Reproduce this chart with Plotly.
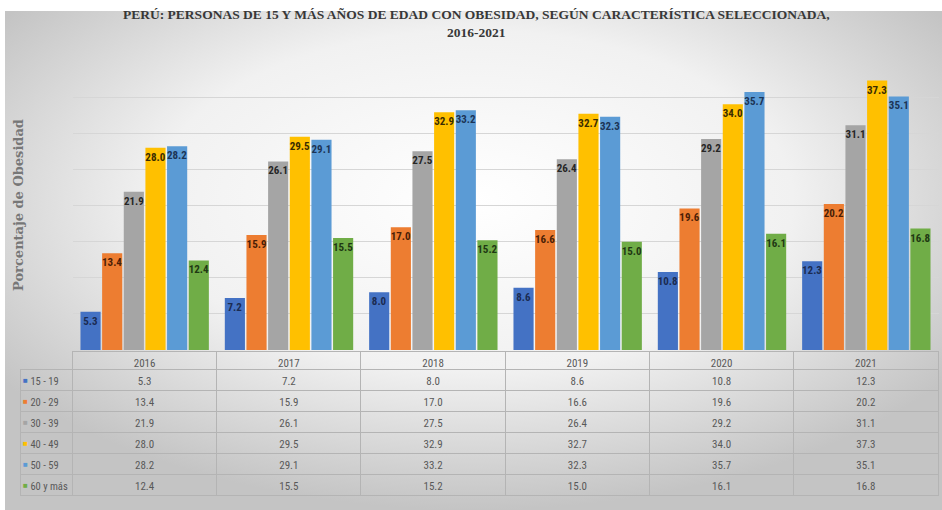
import base64
import plotly.graph_objects as go

years = ["2016", "2017", "2018", "2019", "2020", "2021"]
groups = ["15 - 19", "20 - 29", "30 - 39", "40 - 49", "50 - 59", "60 y más"]
v_15_19 = [5.3, 7.2, 8.0, 8.6, 10.8, 12.3]
v_20_29 = [13.4, 15.9, 17.0, 16.6, 19.6, 20.2]
v_30_39 = [21.9, 26.1, 27.5, 26.4, 29.2, 31.1]
v_40_49 = [28.0, 29.5, 32.9, 32.7, 34.0, 37.3]
v_50_59 = [28.2, 29.1, 33.2, 32.3, 35.7, 35.1]
v_60_mas = [12.4, 15.5, 15.2, 15.0, 16.1, 16.8]
series = [v_15_19, v_20_29, v_30_39, v_40_49, v_50_59, v_60_mas]

colors = ["#4472C4", "#ED7D31", "#A5A5A5", "#FFC000", "#5B9BD5", "#70AD47"]
label_colors = ["#1b2b52", "#4a1e06", "#262626", "#3a2c00", "#1b3456", "#1f3813"]

title_text = ("PERÚ: PERSONAS DE 15 Y MÁS AÑOS DE EDAD CON OBESIDAD, SEGÚN CARACTERÍSTICA SELECCIONADA,"
              "<br>2016-2021")
ytitle = "Porcentaje de Obesidad"

W, H = 942, 510
# layout geometry in pixels
plot_l, plot_r = 72.5, 938.5
plot_top, plot_bot = 61, 350
tab_l, tab_top, tab_bot = 20, 351, 497
head_h, row_h = 18, 21

narrow = "Liberation Sans Narrow, Arial Narrow, Roboto Condensed, Liberation Sans, Arial"
serif = "Liberation Serif, Times New Roman, serif"

fig = go.Figure()
for name, vals, c, lc in zip(groups, series, colors, label_colors):
    fig.add_trace(go.Bar(
        x=years, y=vals, name=name, marker=dict(color=c, line=dict(width=0)),
        texttemplate="%{y:.1f}", textposition="inside", insidetextanchor="end",
        textangle=0, constraintext="none",
        textfont=dict(family=narrow, size=11, color=lc, weight="bold"),
        showlegend=False,
    ))

# data table under the chart
leg_cells = ["\u00a0" + g.replace(" ", "\u00a0") for g in groups]
cols = [leg_cells] + [[f"{s[j]:.1f}" for s in series] for j in range(len(years))]
line_c = "#b4b4b4"
fig.add_trace(go.Table(
    domain=dict(x=[tab_l / W, plot_r / W], y=[1 - tab_bot / H, 1 - tab_top / H]),
    columnwidth=[plot_l - tab_l] + [(plot_r - plot_l) / 6] * 6,
    header=dict(values=[""] + years, height=head_h,
                fill=dict(color=["rgba(0,0,0,0)"] * 7),
                line=dict(color=["rgba(0,0,0,0)"] + [line_c] * 6, width=1),
                align="center",
                font=dict(family=narrow, size=11, color="#595959")),
    cells=dict(values=cols, height=row_h,
               fill=dict(color=["rgba(0,0,0,0)"] * 7),
               line=dict(color=line_c, width=1),
               align=["left"] + ["center"] * 6,
               font=dict(family=narrow, size=[10.5] + [11] * 6, color="#595959")),
))

# legend keys (coloured squares) in the first table column
annotations = []
for i, c in enumerate(colors):
    yc = tab_top + head_h + row_h * (i + 0.5)
    annotations.append(dict(text="■", xref="paper", yref="paper", x=25.5 / W, y=1 - yc / H,
                            xanchor="center", yanchor="middle", showarrow=False,
                            font=dict(size=8, color=c)))

annotations.append(dict(text=ytitle, textangle=-90, xref="paper", yref="paper",
                        x=18 / W, y=1 - 205 / H, xanchor="center", yanchor="middle",
                        showarrow=False,
                        font=dict(family="DejaVu Serif, serif", size=13, color="#777777",
                                  weight="bold")))
annotations.append(dict(text=title_text, xref="paper", yref="paper", x=476 / W, y=1 - 5 / H,
                        xanchor="center", yanchor="top", showarrow=False,
                        font=dict(family=serif, size=13.5, color="#383838", weight="bold")))

svg = (
    '<svg xmlns="http://www.w3.org/2000/svg" width="100" height="100" preserveAspectRatio="none">'
    '<defs><radialGradient id="g" cx="50%" cy="38%" r="62%">'
    '<stop offset="0" stop-color="#ffffff"/><stop offset="0.55" stop-color="#f1f1f1"/>'
    '<stop offset="1" stop-color="#c4c4c4"/></radialGradient></defs>'
    '<rect width="100" height="100" fill="url(#g)"/></svg>'
)
uri = "data:image/svg+xml;base64," + base64.b64encode(svg.encode()).decode()

fig.update_layout(
    width=W, height=H,
    margin=dict(l=0, r=0, t=0, b=0),
    paper_bgcolor="white", plot_bgcolor="rgba(0,0,0,0)",
    barmode="group", bargap=0.1, bargroupgap=0.07,
    images=[dict(source=uri, xref="paper", yref="paper", x=5 / W, y=1 - 11 / H,
                 sizex=1 - 5 / W, sizey=1 - 11 / H, sizing="stretch",
                 xanchor="left", yanchor="top", layer="below")],
    xaxis=dict(domain=[plot_l / W, plot_r / W], showticklabels=False, showgrid=False,
               ticks="", showline=False, zeroline=False, fixedrange=True),
    yaxis=dict(domain=[1 - plot_bot / H, 1 - plot_top / H], range=[0, 40], dtick=5,
               showticklabels=False, showgrid=True, gridcolor="#d6d6d6", gridwidth=1,
               zeroline=False, showline=False, ticks=""),
    annotations=annotations,
)

fig.write_html("out.html")
